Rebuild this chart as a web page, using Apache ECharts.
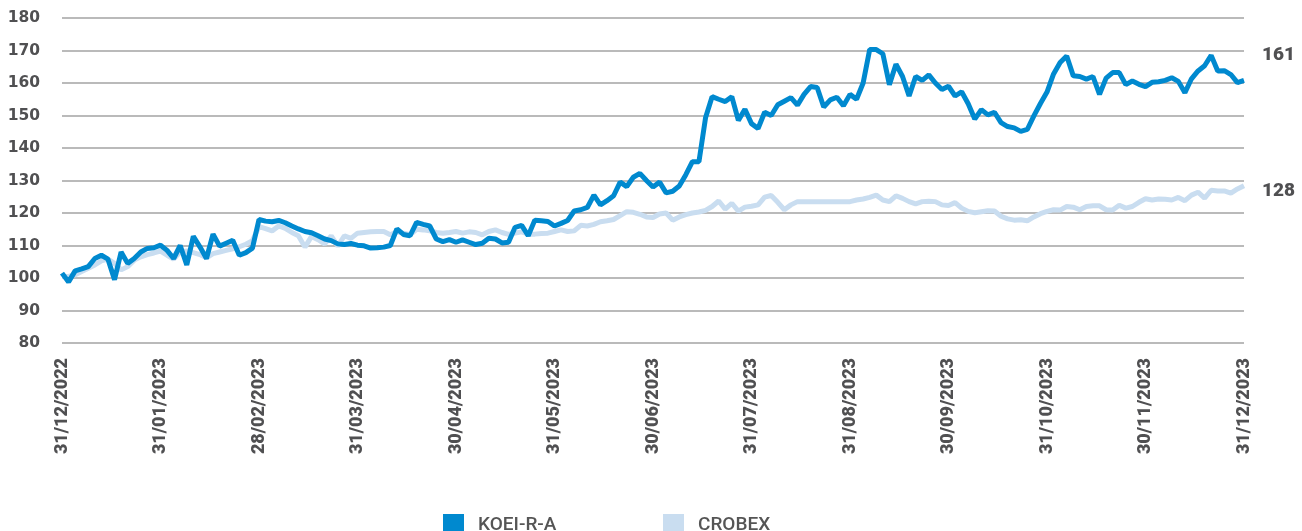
<!DOCTYPE html>
<html>
<head>
<meta charset="utf-8">
<style>
  html, body { margin: 0; padding: 0; background: #fff; }
  #main { width: 1302px; height: 531px; }
</style>
<script src="https://cdn.jsdelivr.net/npm/echarts@6.0.0/dist/echarts.min.js"></script>
</head>
<body>
<div id="main"></div>
<script>
// month-end tick labels, 15 samples per month
var monthLabels = ['31/12/2022', '31/01/2023', '28/02/2023', '31/03/2023', '30/04/2023', '31/05/2023',
  '30/06/2023', '31/07/2023', '31/08/2023', '30/09/2023', '31/10/2023', '30/11/2023', '31/12/2023']
var PER = 15

var koei = [
  101.5, 98.8, 102.2, 102.8, 103.5, 106, 107, 105.8, 99.5, 108, 104.5, 106, 108, 109.1, 109.3,
  110.1, 108.5, 106, 110, 104, 112.8, 109.6, 106, 113.5, 109.8, 110.7, 111.6, 107, 107.8, 109.2,
  118, 117.5, 117.3, 117.7, 117, 116, 115.1, 114.3, 113.9, 113, 112, 111.5, 110.5, 110.3, 110.6,
  110.1, 109.9, 109.2, 109.3, 109.5, 110, 115.1, 113.4, 113, 117.1, 116.5, 116, 112, 111.2, 111.8,
  111, 111.7, 111, 110.3, 110.7, 112.2, 112, 110.8, 111, 115.6, 116.2, 113, 117.8, 117.6, 117.4,
  116, 116.8, 117.7, 120.6, 121, 121.7, 125.5, 122.5, 123.8, 125.3, 129.5, 128.1, 131, 132.2, 130,
  128, 129.5, 126.2, 126.7, 128.3, 131.8, 135.8, 135.8, 149.3, 155.8, 155, 154.3, 155.8, 148.5, 151.9,
  147.5, 146, 151, 150, 153.3, 154.4, 155.5, 153.2, 156.5, 158.9, 158.6, 152.6, 154.8, 155.6, 153,
  156.5, 155, 160, 170.3, 170.3, 169, 159.5, 165.8, 162, 156, 162, 160.8, 162.5, 160, 158,
  159, 156, 157.3, 153.6, 148.9, 151.8, 150.2, 151, 147.8, 146.6, 146.2, 145.1, 145.7, 149.9, 153.7,
  157.2, 162.8, 166.3, 168.3, 162.2, 162, 161.2, 162, 156.5, 161.5, 163.2, 163.2, 159.5, 160.6, 159.6,
  158.9, 160.2, 160.4, 160.8, 161.6, 160.5, 157, 161.3, 163.7, 165.3, 168.5, 163.7, 163.8, 162.6, 160.1,
  160.8
]

var crobex = [
  100.5, 100.5, 101, 102, 103, 104, 105.3, 105.8, 104.5, 102.5, 103.5, 105.5, 106.5, 107.2, 107.7,
  108.3, 107, 105.8, 108, 108.3, 107.8, 107.2, 106.2, 107.5, 108, 108.5, 109, 109.6, 110.4, 111.5,
  115.8, 115.2, 114.5, 116, 115.3, 114, 113, 109.5, 112.8, 111.8, 110.5, 113, 109.8, 113, 112.2,
  113.8, 114, 114.2, 114.3, 114.3, 113.3, 114.2, 113.8, 113.3, 115, 114.8, 114.5, 114, 113.8, 114,
  114.3, 113.8, 114.2, 114, 113.3, 114.3, 114.8, 114, 113.4, 113.8, 114.2, 113.5, 113.5, 113.7, 113.8,
  114.3, 114.8, 114.3, 114.5, 116.2, 116, 116.5, 117.3, 117.6, 118, 119.2, 120.4, 120.2, 119.6, 118.8,
  118.6, 119.7, 120, 117.8, 118.8, 119.5, 120, 120.3, 120.8, 122, 123.7, 121.2, 123, 120.6, 121.8,
  122.1, 122.5, 124.9, 125.4, 123.3, 121, 122.5, 123.5, 123.5, 123.5, 123.5, 123.5, 123.5, 123.5, 123.5,
  123.5, 124, 124.3, 124.8, 125.5, 124, 123.5, 125.3, 124.5, 123.5, 122.8, 123.5, 123.6, 123.5, 122.5,
  122.3, 123.2, 121.5, 120.5, 120.1, 120.4, 120.7, 120.6, 119, 118.2, 117.8, 117.9, 117.6, 118.8, 119.8,
  120.5, 121, 120.9, 122, 121.8, 121, 122, 122.2, 122.2, 121, 120.9, 122.4, 121.5, 122, 123.3,
  124.4, 124, 124.3, 124.2, 124, 124.8, 123.8, 125.5, 126.4, 124.6, 127, 126.8, 126.8, 126.1, 127.4,
  128.4
]

var days = koei.map(function(v, i) { return String(i) })

var gray = '#505052'
var legendText = {
  color: '#555',
  fontFamily: 'Roboto',
  fontWeight: 500,
  fontSize: 19,
  padding: [0, 0, 0, 9]
}

var myChart = echarts.init(document.getElementById('main'))
myChart.setOption({
  animation: false,
  grid: {
    left: 62,
    right: 58,
    top: 18,
    bottom: 188
  },
  legend: [{
    data: ['KOEI-R-A'],
    left: 438,
    top: 509,
    icon: 'rect',
    itemWidth: 21,
    itemHeight: 22,
    selectedMode: false,
    textStyle: legendText
  }, {
    data: ['CROBEX'],
    left: 658,
    top: 509,
    icon: 'rect',
    itemWidth: 21,
    itemHeight: 22,
    selectedMode: false,
    textStyle: legendText
  }],
  xAxis: {
    type: 'category',
    boundaryGap: false,
    data: days,
    axisLine: { show: false },
    axisTick: { show: false },
    axisLabel: {
      rotate: 90,
      margin: 15,
      color: gray,
      fontFamily: 'Roboto',
      fontWeight: 900,
      fontSize: 18,
      interval: function(index) {
        return index % PER === 0
      },
      formatter: function(value, index) {
        return monthLabels[index / PER]
      }
    }
  },
  yAxis: {
    type: 'value',
    min: 80,
    max: 180,
    interval: 10,
    axisLine: { show: false },
    axisTick: { show: false },
    axisLabel: {
      margin: 22,
      color: gray,
      fontFamily: 'DejaVu Sans',
      fontWeight: 'bold',
      fontSize: 15.5
    },
    splitLine: {
      lineStyle: { color: '#a3a3a3', width: 1.5 }
    }
  },
  series: [{
    name: 'CROBEX',
    type: 'line',
    data: crobex,
    symbol: 'none',
    color: '#c9ddf0',
    lineStyle: { width: 5, color: '#c9ddf0' },
    z: 2,
    endLabel: {
      show: true,
      distance: 18,
      offset: [0, 6],
      color: gray,
      fontFamily: 'Roboto',
      fontWeight: 900,
      fontSize: 19,
      formatter: function(p) { return Math.round(p.value) }
    }
  }, {
    name: 'KOEI-R-A',
    type: 'line',
    data: koei,
    symbol: 'none',
    color: '#0089cf',
    lineStyle: { width: 5, color: '#0089cf' },
    z: 3,
    endLabel: {
      show: true,
      distance: 18,
      offset: [0, -25],
      color: gray,
      fontFamily: 'Roboto',
      fontWeight: 900,
      fontSize: 19,
      formatter: function(p) { return Math.round(p.value) }
    }
  }]
})
</script>
</body>
</html>
